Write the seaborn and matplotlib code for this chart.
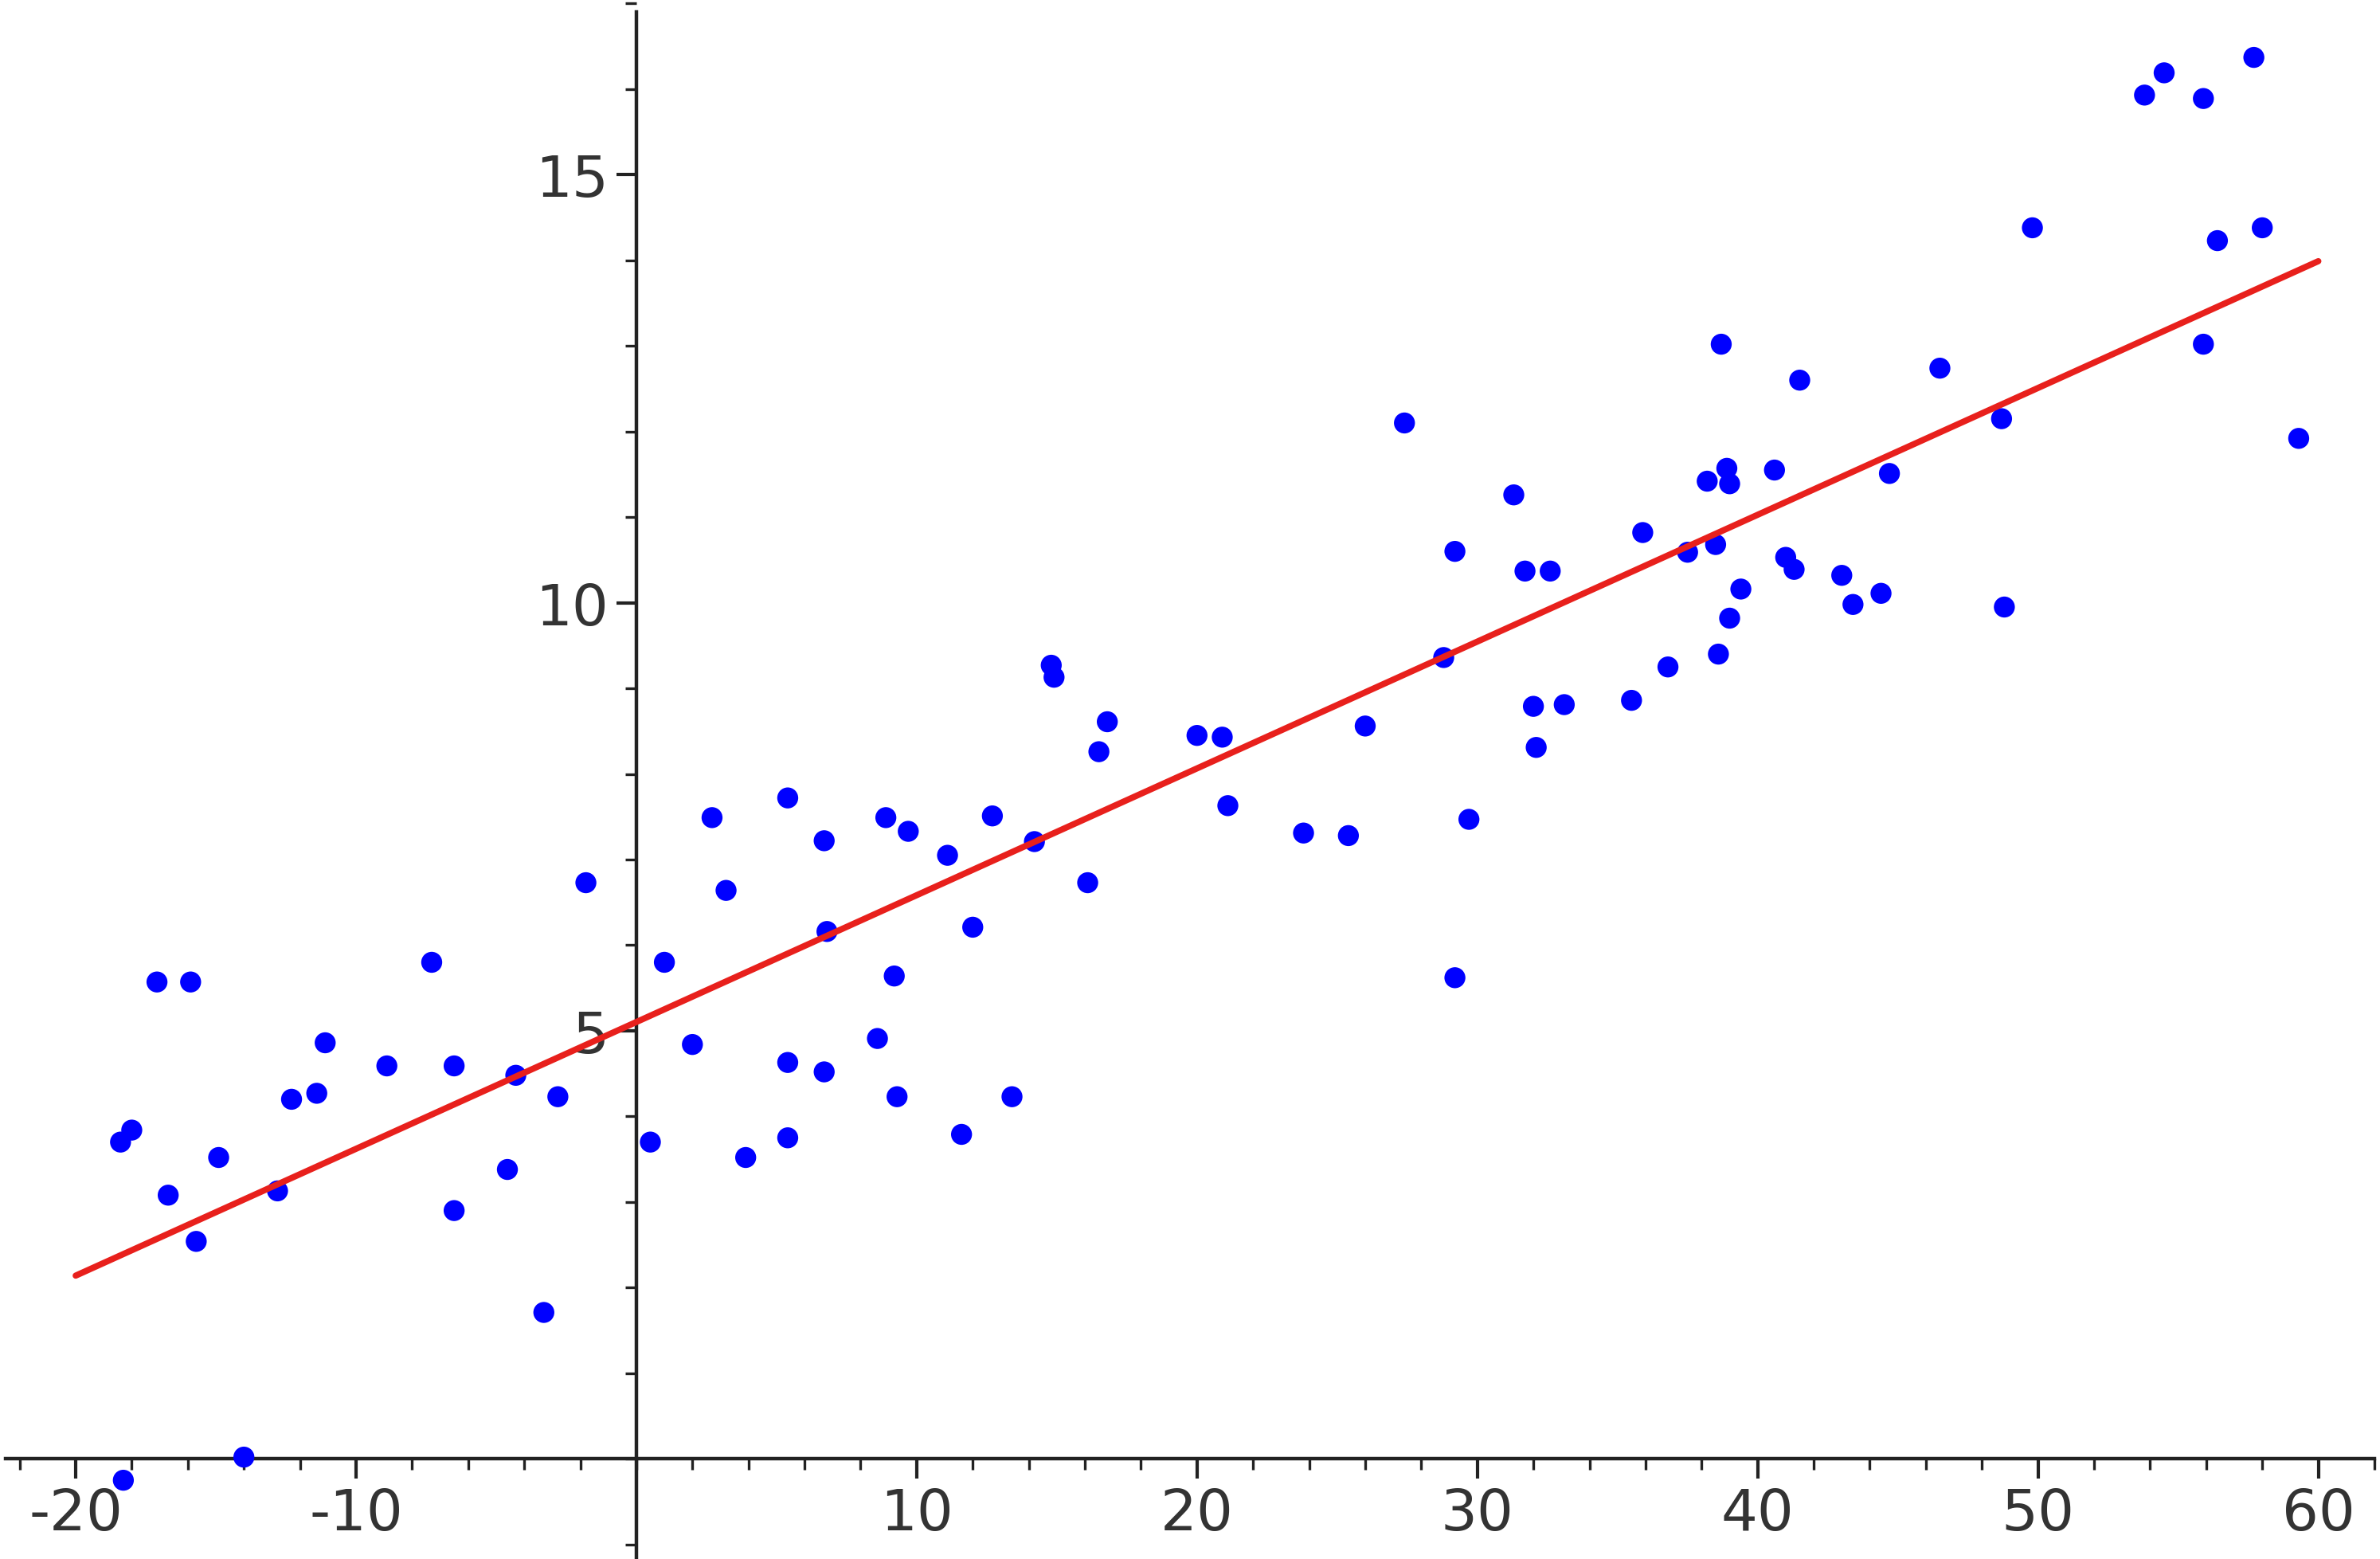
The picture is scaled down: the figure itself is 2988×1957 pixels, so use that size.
import matplotlib
matplotlib.use("Agg")
import matplotlib.pyplot as plt
from matplotlib.ticker import MultipleLocator, FixedLocator
import seaborn as sns
import pandas as pd

# scatter data
x_vals = [-18.4, -18.0, -17.1, -16.7, -15.9, -15.7, -14.9, -14.0, -12.8, -12.3,
          -11.4, -11.1, -8.9, -7.3, -6.5, -6.5, -4.6, -4.3, -3.3, -2.8,
          -1.8, 0.5, 1.0, 2.0, 2.7, 3.2, 3.9, 5.4, 5.4, 5.4,
          6.7, 6.7, 6.8, 8.6, 8.9, 9.2, 9.3, 9.7, 11.1, 11.6,
          12.0, 12.7, 13.4, 14.2, 14.8, 14.9, 16.1, 16.5, 16.8, 20.0,
          20.9, 21.1, 23.8, 25.4, 26.0, 27.4, 28.8, 29.2, 29.2, 29.7,
          31.3, 31.7, 32.0, 32.1, 32.6, 33.1, 35.5, 35.9, 36.8, 37.5,
          38.2, 38.5, 38.6, 38.7, 38.9, 39.0, 39.0, 39.4, 40.6, 41.0,
          41.3, 41.5, 43.0, 43.4, 44.4, 44.7, 46.5, 48.7, 48.8, 49.8,
          53.8, 54.5, 55.9, 55.9, 56.4, 57.7, 58.0, 59.3, -18.3]
y_vals = [3.70, 3.84, 5.57, 3.08, 5.57, 2.54, 3.52, 0.02, 3.13, 4.20,
          4.27, 4.86, 4.59, 5.80, 4.59, 2.90, 3.38, 4.48, 1.71, 4.23,
          6.73, 3.70, 5.80, 4.84, 7.49, 6.64, 3.52, 7.72, 4.63, 3.75,
          7.22, 4.52, 6.16, 4.91, 7.49, 5.64, 4.23, 7.33, 7.05, 3.79,
          6.21, 7.51, 4.23, 7.21, 9.27, 9.13, 6.73, 8.26, 8.61, 8.45,
          8.43, 7.63, 7.31, 7.28, 8.56, 12.10, 9.36, 5.62, 10.60, 7.47,
          11.26, 10.37, 8.79, 8.31, 10.37, 8.81, 8.86, 10.82, 9.25, 10.59,
          11.42, 10.68, 9.40, 13.02, 11.57, 11.39, 9.82, 10.16, 11.55, 10.53,
          10.39, 12.60, 10.32, 9.98, 10.11, 11.51, 12.74, 12.15, 9.95, 14.38,
          15.93, 16.19, 15.89, 13.02, 14.23, 16.37, 14.38, 11.92, -0.25]

# fitted line end points
fit_x = [-20, 60]
fit_y = [2.14, 13.99]

x_ticks = [-20, -10, 10, 20, 30, 40, 50, 60]
y_ticks = [5, 10, 15]

df = pd.DataFrame({"x": x_vals, "y": y_vals})

sns.set_style("white")
plt.rcParams["axes.unicode_minus"] = False
fig = plt.figure(figsize=(14.94, 9.79), dpi=200)
ax = fig.add_axes([0, 0, 1, 1])

sns.scatterplot(data=df, x="x", y="y", color="#0000ff", s=90, edgecolor="none", ax=ax, zorder=3)
sns.lineplot(x=fit_x, y=fit_y, color="#e8201c", linewidth=2.8, ax=ax, zorder=4)

ax.set_xlim(-22.7, 62.2)
ax.set_ylim(-1.17, 17.05)

ax.spines["left"].set_position(("data", 0))
ax.spines["bottom"].set_position(("data", 0))
ax.spines["top"].set_visible(False)
ax.spines["right"].set_visible(False)
for sp in ("left", "bottom"):
    ax.spines[sp].set_color("#222222")
    ax.spines[sp].set_linewidth(1.6)
ax.spines["left"].set_bounds(-1.17, 16.9)
ax.spines["bottom"].set_bounds(-22.5, 62)

ax.xaxis.set_major_locator(FixedLocator(x_ticks))
ax.yaxis.set_major_locator(FixedLocator(y_ticks))
ax.xaxis.set_minor_locator(MultipleLocator(2))
ax.yaxis.set_minor_locator(MultipleLocator(1))
ax.tick_params(which="major", direction="out", length=9, width=1.5, color="#222222",
               labelsize=26, labelcolor="#333333")
ax.tick_params(which="minor", direction="out", length=5, width=1.2, color="#222222")
ax.tick_params(axis="x", which="both", bottom=True)
ax.tick_params(axis="y", which="both", left=True)
ax.set_xlabel("")
ax.set_ylabel("")

fig.savefig("out.png", dpi=200)
